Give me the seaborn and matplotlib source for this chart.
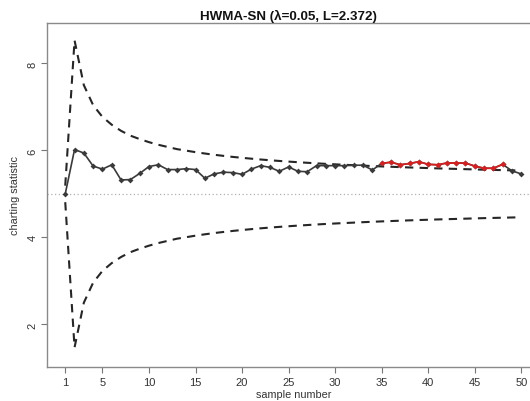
import matplotlib
matplotlib.use("Agg")
import matplotlib.pyplot as plt
import seaborn as sns
import numpy as np
import pandas as pd

sample = list(range(1, 51))
statistic = [5.00, 6.02, 5.94, 5.64, 5.57, 5.67, 5.32, 5.33, 5.47, 5.63,
             5.67, 5.56, 5.56, 5.58, 5.56, 5.36, 5.46, 5.50, 5.49, 5.45,
             5.57, 5.65, 5.61, 5.52, 5.62, 5.52, 5.51, 5.65, 5.65, 5.65,
             5.65, 5.66, 5.66, 5.55, 5.70, 5.73, 5.67, 5.70, 5.74, 5.68,
             5.67, 5.71, 5.71, 5.71, 5.64, 5.59, 5.59, 5.68, 5.53, 5.46]
ucl = [5.19, 8.53, 7.50, 7.04, 6.77, 6.59, 6.45, 6.34, 6.26, 6.19,
       6.13, 6.08, 6.03, 5.995, 5.96, 5.929, 5.90, 5.875, 5.851, 5.83,
       5.81, 5.791, 5.774, 5.758, 5.743, 5.729, 5.716, 5.703, 5.691, 5.68,
       5.67, 5.66, 5.65, 5.641, 5.632, 5.624, 5.616, 5.608, 5.601, 5.594,
       5.587, 5.581, 5.575, 5.569, 5.563, 5.557, 5.552, 5.547, 5.542, 5.537]
lcl = [4.81, 1.47, 2.50, 2.96, 3.23, 3.41, 3.55, 3.66, 3.74, 3.81,
       3.87, 3.92, 3.97, 4.005, 4.04, 4.071, 4.10, 4.125, 4.149, 4.17,
       4.19, 4.209, 4.226, 4.242, 4.257, 4.271, 4.284, 4.297, 4.309, 4.32,
       4.33, 4.34, 4.35, 4.359, 4.368, 4.376, 4.384, 4.392, 4.399, 4.406,
       4.413, 4.419, 4.425, 4.431, 4.437, 4.443, 4.448, 4.453, 4.458, 4.463]
center = 5.0
signal_range = (35, 48)
x_ticks = [1, 5, 10, 15, 20, 25, 30, 35, 40, 45, 50]
y_ticks = [2, 4, 6, 8]
title = "HWMA-SN (\u03bb=0.05, L=2.372)"

sns.set_style("white")
plt.rcParams['font.family'] = ['Liberation Sans', 'DejaVu Sans']

df = pd.DataFrame({"sample": sample, "stat": statistic, "ucl": ucl, "lcl": lcl})
sig = df[(df["sample"] >= signal_range[0]) & (df["sample"] <= signal_range[1])]

fig = plt.figure(figsize=(5.30, 4.02), dpi=100)
ax = fig.add_axes([47 / 530, 34 / 402, 492.5 / 530, 344 / 402])

ax.axhline(center, color="#b0b0b0", lw=0.9, ls=(0, (1, 2)), zorder=1)
sns.lineplot(data=df, x="sample", y="ucl", ax=ax, color="#262626", lw=1.5,
             zorder=2).lines[-1].set_dashes([4, 3])
sns.lineplot(data=df, x="sample", y="lcl", ax=ax, color="#262626", lw=1.5,
             zorder=2).lines[-1].set_dashes([4, 3])
sns.lineplot(data=df, x="sample", y="stat", ax=ax, color="#3a3a3a", lw=1.2,
             marker="D", markersize=3.0, markeredgewidth=0, zorder=3)
sns.lineplot(data=sig, x="sample", y="stat", ax=ax, color="#d81e1e", lw=1.2,
             marker="D", markersize=3.0, markeredgewidth=0, zorder=4)

ax.set_xlim(-0.96, 51.96)
ax.set_ylim(1.02, 8.93)
ax.set_xticks(x_ticks)
ax.set_yticks(y_ticks)
ax.set_yticklabels([str(v) for v in y_ticks], rotation=90, va="center")
ax.tick_params(axis="both", direction="out", length=4, width=0.8,
               color="#777777", labelsize=8, labelcolor="#333333", pad=3,
               left=True, bottom=True)
for s in ax.spines.values():
    s.set_color("#8a8a8a")
    s.set_linewidth(1.0)
ax.set_xlabel("sample number", fontsize=7.8, color="#333333", labelpad=2)
ax.set_ylabel("charting statistic", fontsize=7.8, color="#333333", labelpad=5)
ax.set_title(title, fontsize=9.6, fontweight="bold", color="#111111", pad=3,
             x=0.49)

fig.savefig("out.png", dpi=100)
